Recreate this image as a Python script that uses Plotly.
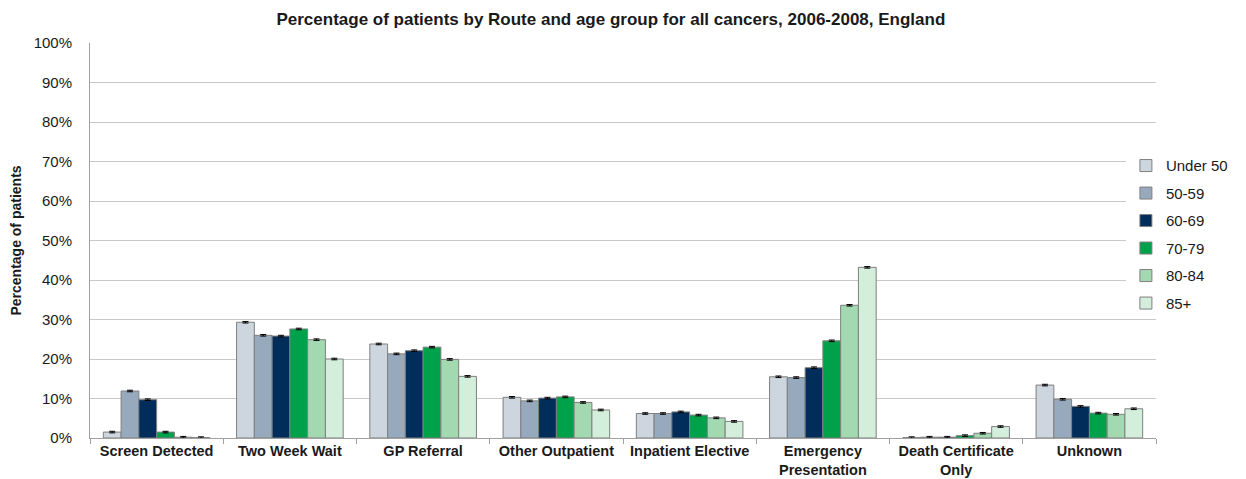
import plotly.graph_objects as go

routes = ['Screen Detected', 'Two Week Wait', 'GP Referral', 'Other Outpatient',
          'Inpatient Elective', 'Emergency<br>Presentation', 'Death Certificate<br>Only', 'Unknown']

under_50 = [1.5, 29.3, 23.8, 10.3, 6.2, 15.5, 0.1, 13.4]
age_50_59 = [11.9, 26.0, 21.3, 9.4, 6.2, 15.3, 0.2, 9.8]
age_60_69 = [9.7, 25.8, 22.1, 10.1, 6.6, 17.8, 0.2, 8.0]
age_70_79 = [1.5, 27.6, 23.0, 10.4, 5.8, 24.6, 0.6, 6.3]
age_80_84 = [0.2, 24.9, 19.9, 9.0, 5.1, 33.6, 1.2, 6.0]
age_85_plus = [0.1, 20.0, 15.6, 7.1, 4.2, 43.2, 2.9, 7.4]

series = [
    ('Under 50', under_50, '#cdd5df'),
    ('50-59', age_50_59, '#97a9bc'),
    ('60-69', age_60_69, '#002d5a'),
    ('70-79', age_70_79, '#00a14b'),
    ('80-84', age_80_84, '#a3d9b1'),
    ('85+', age_85_plus, '#d3eedb'),
]

fig = go.Figure()
for name, vals, color in series:
    fig.add_trace(go.Bar(
        x=routes,
        y=vals,
        name=name,
        legendgroup=name,
        marker=dict(color=color, line=dict(color='#7f7f7f', width=1)),
        error_y=dict(type='constant', value=0.2, color='black', thickness=1, width=3),
    ))

# page body has an 8px margin, so the figure is sized to fit the remaining window
fig.update_layout(
    template='plotly_white',
    font=dict(family='Liberation Sans, Arial, sans-serif', size=15, color='#1a1a1a'),
    title=dict(text='<b>Percentage of patients by Route and age group for all cancers, 2006-2008, England</b>',
               x=0.487, xanchor='center', y=0.99, yanchor='top', font=dict(size=17)),
    barmode='group',
    bargap=0.2,
    bargroupgap=0,
    width=1238,
    height=471,
    margin=dict(l=82, r=90, t=35, b=41, autoexpand=False),
    plot_bgcolor='white',
    paper_bgcolor='white',
    yaxis=dict(
        range=[0, 100],
        dtick=10,
        ticksuffix='%',
        gridcolor='#c8c8c8',
        gridwidth=1,
        showline=True,
        linecolor='#a0a0a0',
        title=dict(text='<b>Percentage of patients</b>', font=dict(size=14)),
        zeroline=False,
        automargin=False,
        tickfont=dict(size=15),
        ticklabelstandoff=14,
    ),
    xaxis=dict(
        showline=True,
        linecolor='#a0a0a0',
        ticks='outside',
        tickson='boundaries',
        tickcolor='#a0a0a0',
        ticklen=5,
        tickfont=dict(size=14.5),
        tickprefix='<b>',
        ticksuffix='</b>',
        automargin=False,
    ),
    legend=dict(
        xref='container', yref='container',
        x=0.903, xanchor='left',
        y=0.70, yanchor='top',
        font=dict(size=15),
        itemwidth=30,
        tracegroupgap=5,
    ),
)

fig.write_html('out.html')
